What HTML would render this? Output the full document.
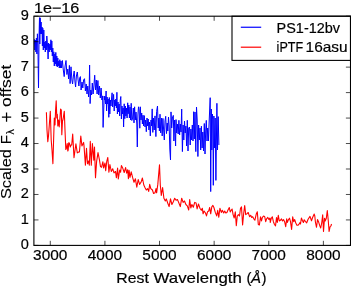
<!DOCTYPE html><html><head><meta charset="utf-8"><style>html,body{margin:0;padding:0;background:#fff;overflow:hidden}svg{display:block;will-change:transform}text{stroke:#000;stroke-width:0.2px}.yl text{stroke-width:0.1px}</style></head><body><svg width="351" height="286" viewBox="0 0 351 286">
<rect width="351" height="286" fill="#fff"/>
<defs><clipPath id="c"><rect x="33.9" y="16.2" width="316.6" height="229.20000000000002"/></clipPath></defs>
<g clip-path="url(#c)" fill="none" stroke-width="1.1" stroke-linejoin="round" stroke-linecap="butt">
<polyline stroke="#0000ff" stroke-width="1.0" points="34.0,44.0 34.4,39.5 34.9,50.0 35.4,40.0 35.9,52.0 36.4,38.0 36.9,54.0 37.4,33.8 37.9,45.0 38.5,88.0 39.1,34.0 39.5,17.7 39.8,44.0 40.2,17.8 40.7,34.0 41.1,22.0 41.5,34.0 42.0,27.0 42.4,46.0 42.8,28.2 43.3,50.0 43.8,30.0 44.3,48.0 44.8,42.0 45.3,52.0 45.8,41.0 46.3,50.0 46.8,36.0 47.5,45.0 48.1,59.0 48.6,43.0 49.2,52.0 49.8,44.0 50.3,50.0 50.9,39.8 51.4,52.0 51.8,41.0 52.3,56.0 52.8,48.0 53.3,62.0 53.8,51.8 54.3,66.0 54.8,54.0 55.3,64.0 55.8,52.4 56.3,66.0 56.8,56.0 57.3,67.0 57.8,58.0 58.3,66.0 58.8,61.0 59.3,68.0 59.8,59.7 60.4,68.0 61.0,61.0 61.6,68.0 62.4,60.5 63.3,70.0 64.2,76.6 65.1,66.0 66.0,60.5 66.9,74.5 67.8,69.0 68.6,79.0 69.4,65.4 70.1,83.6 71.0,66.8 71.9,80.0 72.6,84.0 73.4,76.0 74.2,71.0 75.0,82.0 75.6,87.0 76.4,76.0 77.3,72.0 78.1,80.0 78.9,86.0 79.7,78.0 80.4,76.6 81.1,90.0 82.0,82.0 82.8,88.0 83.6,80.0 84.5,78.7 85.4,91.0 86.2,84.0 87.0,94.0 87.8,86.0 88.6,97.0 89.2,88.0 89.6,65.0 90.1,103.6 90.8,90.0 91.6,95.0 92.3,83.0 93.1,94.0 93.9,86.0 94.7,75.2 95.5,90.0 96.3,80.0 97.1,94.0 97.9,80.5 98.7,95.0 99.5,86.0 100.3,98.0 101.1,88.0 101.9,100.0 102.6,95.9 103.1,127.4 104.2,96.0 104.6,100.0 105.0,96.5 105.5,104.0 106.1,91.0 106.6,111.0 107.1,97.0 107.7,104.0 108.2,99.0 108.8,117.3 109.3,97.5 109.8,114.0 110.4,100.0 111.0,106.0 111.6,98.0 112.1,92.8 112.6,107.0 113.1,100.0 113.6,94.4 114.2,111.0 114.7,100.0 115.3,106.0 115.8,99.0 116.4,108.0 116.9,92.3 117.4,114.0 118.0,102.0 118.6,112.0 119.1,104.0 119.7,116.0 120.3,100.0 120.8,96.5 121.4,119.0 122.0,106.0 122.6,114.0 123.2,108.0 123.6,127.0 124.2,103.8 124.8,118.7 125.3,106.0 125.9,116.0 126.5,108.0 127.1,118.0 127.7,102.8 128.2,113.8 128.8,105.0 129.4,118.0 130.0,107.0 130.6,120.0 131.2,103.3 131.8,120.5 132.6,118.0 133.3,108.0 134.0,122.9 134.6,106.8 135.3,120.0 136.0,112.0 136.8,124.0 137.3,147.0 137.9,115.0 138.5,106.8 139.1,110.0 139.8,128.2 140.3,106.8 141.0,120.0 141.7,113.0 142.4,124.0 143.0,115.2 143.6,126.0 144.3,115.6 145.0,127.0 145.7,120.0 146.3,131.7 147.0,118.0 147.7,126.0 148.2,119.0 148.9,130.0 149.6,122.0 150.3,135.9 151.0,120.0 151.6,126.0 152.2,108.9 152.8,132.4 153.5,118.0 154.2,130.0 155.0,115.9 155.9,136.6 156.6,111.4 157.5,106.0 158.2,128.0 158.8,118.0 159.4,131.0 160.0,114.2 160.7,132.9 161.5,118.0 162.2,136.0 162.9,118.4 163.5,128.0 164.3,140.0 165.0,121.0 165.7,116.3 166.5,133.6 167.2,123.0 167.8,131.0 168.5,117.0 169.2,126.0 169.8,149.0 170.5,160.0 171.0,111.9 171.7,128.0 172.4,118.0 173.3,115.4 173.9,141.0 174.6,120.0 175.6,146.0 176.0,119.6 176.7,133.0 177.4,124.0 178.2,134.0 178.9,120.3 179.6,135.0 180.3,124.0 181.0,132.0 181.7,109.1 182.4,151.6 183.1,125.0 183.8,140.0 184.5,121.0 185.2,133.0 185.9,126.0 186.6,146.0 187.3,120.3 188.0,151.0 188.7,128.0 189.5,127.0 190.2,145.0 190.9,129.0 191.6,140.0 192.3,125.0 193.0,141.0 193.7,111.7 194.3,139.0 195.0,112.0 195.8,151.6 196.5,107.0 197.2,120.0 197.9,156.5 198.6,125.0 199.3,140.0 200.0,128.0 200.7,150.0 201.4,126.2 202.1,148.0 202.8,132.0 203.5,151.0 204.3,123.5 205.0,154.0 205.7,130.0 206.3,120.4 207.0,141.0 207.7,128.0 208.4,141.0 209.0,125.0 210.2,97.7 210.7,191.6 211.3,109.0 211.8,150.0 212.4,114.0 212.9,119.6 213.3,185.3 213.9,116.0 214.6,148.0 215.2,118.0 215.9,180.4 216.9,103.3 217.5,150.0 218.2,116.6 218.9,145.0"/>
<polyline stroke="#ff0000" points="46.4,112.3 47.0,130.0 47.8,141.6 48.5,136.0 49.3,125.0 50.3,111.2 51.2,140.0 52.0,150.0 52.9,163.6 53.6,140.0 54.3,118.0 55.0,125.0 55.6,110.0 56.2,100.7 56.8,118.0 57.3,114.4 57.8,126.0 58.5,120.0 59.2,127.0 59.8,120.0 60.6,109.0 61.3,110.0 61.8,134.8 62.5,121.0 63.1,119.0 64.3,111.2 65.0,130.0 65.8,149.5 66.5,148.0 67.2,143.6 67.8,151.0 68.2,150.0 68.7,142.7 69.3,143.0 70.3,147.0 71.0,145.0 71.7,145.0 72.7,134.0 74.0,157.8 75.9,143.8 77.3,152.9 78.7,152.0 79.4,152.0 80.8,136.0 81.9,145.9 83.6,142.4 84.0,145.6 85.4,165.2 86.5,148.4 87.5,163.8 88.5,161.0 89.3,165.2 90.3,141.4 91.3,165.2 92.4,143.5 93.8,160.3 94.5,147.0 95.5,177.8 96.6,161.7 98.0,152.6 99.4,159.6 100.5,166.6 101.5,167.3 102.9,161.7 103.6,168.0 105.0,163.0 105.7,170.8 106.7,161.7 107.8,157.5 108.9,172.2 109.9,164.5 111.3,171.5 112.7,168.7 114.0,172.9 115.5,171.5 116.4,177.8 117.6,168.0 118.3,179.0 119.7,170.0 120.6,172.2 121.4,165.5 122.8,168.3 124.2,172.5 125.6,167.6 126.7,173.2 127.7,169.7 128.4,178.8 129.1,170.4 130.0,177.4 131.2,171.8 132.6,177.4 134.0,182.3 135.4,178.8 136.8,187.2 138.2,179.5 139.6,184.4 141.0,182.3 142.4,178.0 143.8,185.0 145.2,187.9 146.3,190.0 147.7,188.6 148.7,191.4 149.7,184.4 150.8,188.6 152.4,190.0 153.6,193.5 155.0,192.8 156.0,188.6 156.6,192.8 157.8,184.4 159.5,164.8 160.3,185.0 161.3,195.4 162.6,187.5 163.9,198.2 165.3,201.0 166.3,198.9 167.7,203.0 169.1,206.6 170.5,198.9 171.9,204.5 173.3,201.7 174.7,198.2 176.1,200.3 177.5,199.6 178.9,203.0 180.3,206.6 181.7,198.2 183.1,202.4 184.5,201.0 185.9,204.5 187.3,205.9 188.7,210.0 189.7,199.6 190.8,208.0 191.9,204.5 193.3,207.3 194.7,202.4 196.1,203.0 197.1,208.9 198.5,204.0 199.9,208.2 201.3,210.3 202.3,208.2 203.1,213.8 204.1,211.0 205.5,213.0 206.5,215.9 207.6,211.7 208.7,211.0 209.7,207.5 210.7,213.8 211.8,206.8 212.9,205.4 213.9,207.5 215.3,212.4 216.7,215.9 217.7,210.3 218.8,217.3 219.9,208.2 221.3,212.4 222.3,210.3 223.7,213.0 224.7,211.0 225.8,213.0 226.9,212.4 227.9,210.3 229.3,207.5 230.2,212.0 231.1,210.4 232.1,209.0 233.1,214.6 234.2,218.0 235.3,211.8 236.3,225.8 237.3,216.0 238.4,214.6 239.5,216.0 240.5,208.3 241.5,206.9 242.6,225.0 243.7,213.2 244.7,205.5 245.7,214.6 246.8,213.9 248.2,212.5 249.6,216.7 250.7,215.3 251.7,217.4 252.7,216.7 253.8,218.8 254.9,220.2 256.3,213.9 257.3,211.8 258.3,224.4 259.4,225.0 260.5,216.7 261.5,220.9 262.4,217.4 263.6,216.0 264.7,216.7 265.7,221.6 266.6,218.8 267.8,217.4 268.9,219.5 269.9,218.0 270.3,222.4 271.3,218.2 272.3,216.8 273.4,221.7 274.5,224.5 275.5,225.9 276.5,217.5 277.3,222.4 278.3,215.4 279.3,221.0 280.4,220.3 281.5,218.9 282.5,221.0 283.5,219.6 284.6,221.7 285.7,226.6 286.7,218.9 287.4,222.4 288.5,219.6 289.5,218.2 290.5,221.7 291.6,229.4 292.7,216.8 293.7,221.7 294.7,219.6 295.8,223.0 296.9,225.2 297.9,225.2 298.8,224.5 300.0,222.5 300.5,224.0 301.4,218.0 302.5,220.8 303.4,222.5 304.2,219.7 305.3,221.4 306.7,222.8 308.1,219.2 310.0,216.4 311.5,220.8 312.6,217.5 313.4,215.8 314.2,214.1 314.8,216.0 315.4,222.0 316.5,227.3 317.5,219.6 318.5,221.7 319.6,225.2 320.7,228.0 321.7,223.0 322.7,214.7 323.5,231.5 324.5,218.2 325.2,221.0 326.3,218.2 327.3,210.5 328.3,221.0 329.1,231.5 330.1,226.6 331.0,225.9 331.5,224.0"/>
</g>
<path d="M33.9,245.40h4.6M350.5,245.40h-4.6M33.9,219.93h4.6M350.5,219.93h-4.6M33.9,194.47h4.6M350.5,194.47h-4.6M33.9,169.00h4.6M350.5,169.00h-4.6M33.9,143.53h4.6M350.5,143.53h-4.6M33.9,118.07h4.6M350.5,118.07h-4.6M33.9,92.60h4.6M350.5,92.60h-4.6M33.9,67.13h4.6M350.5,67.13h-4.6M33.9,41.67h4.6M350.5,41.67h-4.6M33.9,16.20h4.6M350.5,16.20h-4.6M50.29,245.4v-4.6M50.29,16.2v4.6M104.91,245.4v-4.6M104.91,16.2v4.6M159.53,245.4v-4.6M159.53,16.2v4.6M214.15,245.4v-4.6M214.15,16.2v4.6M268.77,245.4v-4.6M268.77,16.2v4.6M323.39,245.4v-4.6M323.39,16.2v4.6" stroke="#000" stroke-width="0.7" fill="none"/>
<rect x="232.0" y="16.2" width="118.5" height="44.2" fill="#fff" stroke="#000" stroke-width="1.1"/>
<line x1="240.8" y1="27.25" x2="261.2" y2="27.25" stroke="#0000ff" stroke-width="1.2"/>
<line x1="240.8" y1="47.2" x2="261.2" y2="47.2" stroke="#ff0000" stroke-width="1.2"/>
<rect x="33.9" y="16.2" width="316.6" height="229.20000000000002" fill="none" stroke="#000" stroke-width="1.1"/>
<text x="28.9" y="249.10" text-anchor="end" font-size="15.0" font-family="Liberation Sans, sans-serif" textLength="8.1" lengthAdjust="spacingAndGlyphs">0</text>
<text x="28.9" y="223.63" text-anchor="end" font-size="15.0" font-family="Liberation Sans, sans-serif" textLength="8.1" lengthAdjust="spacingAndGlyphs">1</text>
<text x="28.9" y="198.17" text-anchor="end" font-size="15.0" font-family="Liberation Sans, sans-serif" textLength="8.1" lengthAdjust="spacingAndGlyphs">2</text>
<text x="28.9" y="172.70" text-anchor="end" font-size="15.0" font-family="Liberation Sans, sans-serif" textLength="8.1" lengthAdjust="spacingAndGlyphs">3</text>
<text x="28.9" y="147.23" text-anchor="end" font-size="15.0" font-family="Liberation Sans, sans-serif" textLength="8.1" lengthAdjust="spacingAndGlyphs">4</text>
<text x="28.9" y="121.77" text-anchor="end" font-size="15.0" font-family="Liberation Sans, sans-serif" textLength="8.1" lengthAdjust="spacingAndGlyphs">5</text>
<text x="28.9" y="96.30" text-anchor="end" font-size="15.0" font-family="Liberation Sans, sans-serif" textLength="8.1" lengthAdjust="spacingAndGlyphs">6</text>
<text x="28.9" y="70.83" text-anchor="end" font-size="15.0" font-family="Liberation Sans, sans-serif" textLength="8.1" lengthAdjust="spacingAndGlyphs">7</text>
<text x="28.9" y="45.37" text-anchor="end" font-size="15.0" font-family="Liberation Sans, sans-serif" textLength="8.1" lengthAdjust="spacingAndGlyphs">8</text>
<text x="28.9" y="19.90" text-anchor="end" font-size="15.0" font-family="Liberation Sans, sans-serif" textLength="8.1" lengthAdjust="spacingAndGlyphs">9</text>
<text x="50.29" y="260.0" text-anchor="middle" font-size="15.0" font-family="Liberation Sans, sans-serif" textLength="34.3" lengthAdjust="spacingAndGlyphs">3000</text>
<text x="104.91" y="260.0" text-anchor="middle" font-size="15.0" font-family="Liberation Sans, sans-serif" textLength="34.3" lengthAdjust="spacingAndGlyphs">4000</text>
<text x="159.53" y="260.0" text-anchor="middle" font-size="15.0" font-family="Liberation Sans, sans-serif" textLength="34.3" lengthAdjust="spacingAndGlyphs">5000</text>
<text x="214.15" y="260.0" text-anchor="middle" font-size="15.0" font-family="Liberation Sans, sans-serif" textLength="34.3" lengthAdjust="spacingAndGlyphs">6000</text>
<text x="268.77" y="260.0" text-anchor="middle" font-size="15.0" font-family="Liberation Sans, sans-serif" textLength="34.3" lengthAdjust="spacingAndGlyphs">7000</text>
<text x="323.39" y="260.0" text-anchor="middle" font-size="15.0" font-family="Liberation Sans, sans-serif" textLength="34.3" lengthAdjust="spacingAndGlyphs">8000</text>
<text x="116.3" y="282.8" font-size="15.0" font-family="Liberation Sans, sans-serif" textLength="32.5" lengthAdjust="spacingAndGlyphs">Rest</text>
<text x="153.6" y="282.8" font-size="15.0" font-family="Liberation Sans, sans-serif" textLength="88.2" lengthAdjust="spacingAndGlyphs">Wavelength</text>
<text x="246.6" y="282.8" font-size="15.0" font-family="Liberation Sans, sans-serif">(</text>
<text x="251.0" y="282.8" font-size="15.0" font-family="Liberation Sans, sans-serif" font-style="italic">Å</text>
<text x="261.5" y="282.8" font-size="15.0" font-family="Liberation Sans, sans-serif">)</text>
<g transform="translate(11.1,199.1) rotate(-90)" class="yl"><text x="0" y="0" font-size="15.0" font-family="Liberation Sans, sans-serif" textLength="50.0" lengthAdjust="spacingAndGlyphs">Scaled</text><text x="54.8" y="0" font-size="15.0" font-family="Liberation Sans, sans-serif">F</text><text x="64.5" y="2.6" font-size="10.5" font-family="Liberation Sans, sans-serif">λ</text><text x="92.1" y="0" font-size="15.0" font-family="Liberation Sans, sans-serif" textLength="42.3" lengthAdjust="spacingAndGlyphs">offset</text></g>
<path d="M1.9,117H11.2M6.55,112.4V121.7" stroke="#000" stroke-width="1.25"/>
<text x="33.9" y="12.8" font-size="15.0" font-family="Liberation Sans, sans-serif" textLength="45.5" lengthAdjust="spacingAndGlyphs">1e−16</text>
<text x="276.6" y="32.7" font-size="15.0" font-family="Liberation Sans, sans-serif" textLength="63.4" lengthAdjust="spacingAndGlyphs">PS1-12bv</text>
<text x="276.6" y="51.9" font-size="15.0" font-family="Liberation Sans, sans-serif" textLength="26.5" lengthAdjust="spacingAndGlyphs">iPTF</text>
<text x="305.6" y="51.9" font-size="15.0" font-family="Liberation Sans, sans-serif" textLength="42.0" lengthAdjust="spacingAndGlyphs">16asu</text>
</svg></body></html>
